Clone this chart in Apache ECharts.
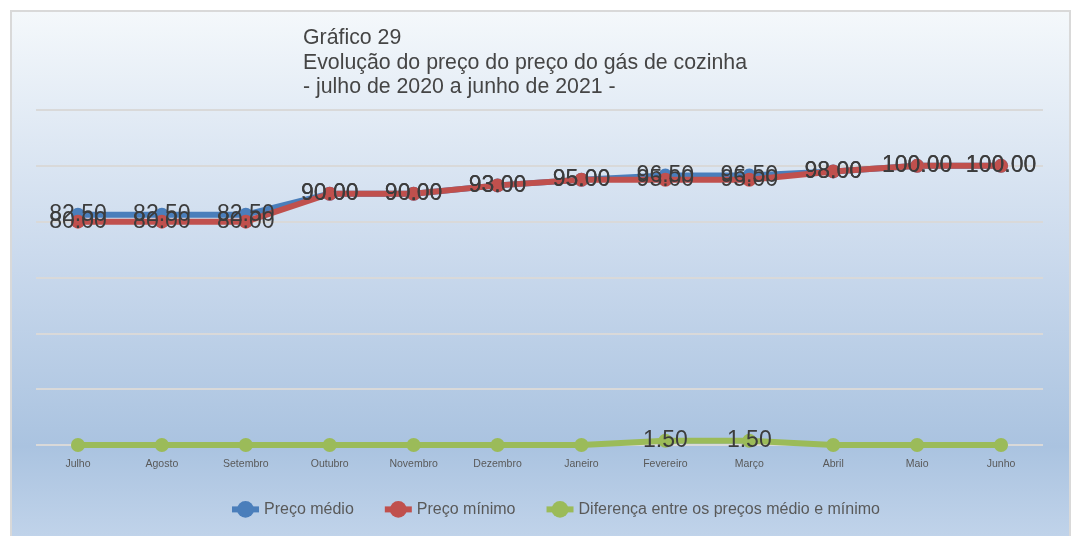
<!DOCTYPE html>
<html>
<head>
<meta charset="utf-8">
<script src="https://cdn.jsdelivr.net/npm/echarts@6/dist/echarts.min.js"></script>
<style>
  html, body { margin: 0; padding: 0; background: #ffffff; }
  #frame {
    position: absolute; left: 10px; top: 10px;
    width: 1061px; height: 540px;
    box-sizing: border-box;
    border: 2px solid #d9d9d9;
  }
  #chart { width: 1057px; height: 536px; }
</style>
</head>
<body>
<div id="frame"><div id="chart"></div></div>
<script>
// Meses de julho de 2020 a junho de 2021
const months = ['Julho', 'Agosto', 'Setembro', 'Outubro', 'Novembro', 'Dezembro',
                'Janeiro', 'Fevereiro', 'Março', 'Abril', 'Maio', 'Junho'];

// Preços do gás de cozinha (R$)
const precoMedio  = [82.5, 82.5, 82.5, 90, 90, 93, 95, 96.5, 96.5, 98, 100, 100];
const precoMinimo = [80, 80, 80, 90, 90, 93, 95, 95, 95, 98, 100, 100];
const diferenca   = [0, 0, 0, 0, 0, 0, 0, 1.5, 1.5, 0, 0, 0];

const seriesNames = ['Preço médio', 'Preço mínimo', 'Diferença entre os preços médio e mínimo'];
const titleLines = ['Gráfico 29', 'Evolução do preço do preço do gás de cozinha', '- julho de 2020 a junho de 2021 -'];

const FONT = 'Arial, "Liberation Sans", sans-serif';
const colors = ['#4a7ebb', '#c0504d', '#9bbb59'];

const chart = echarts.init(document.getElementById('chart'));

function lineSeries(name, data, color, hideZero) {
  return {
    name: name,
    type: 'line',
    data: data,
    symbol: 'circle',
    symbolSize: 14,
    lineStyle: { color: color, width: 6 },
    itemStyle: { color: color },
    emphasis: { disabled: true },
    label: {
      show: true,
      position: 'inside',
      fontFamily: FONT,
      fontSize: 23,
      color: '#3c3c3c',
      formatter: p => (hideZero && p.value === 0) ? '' : p.value.toFixed(2)
    },
    z: 2
  };
}

chart.setOption({
  animation: false,
  backgroundColor: {
    type: 'linear', x: 0, y: 0, x2: 0, y2: 1,
    colorStops: [
      { offset: 0, color: '#f4f8fb' },
      { offset: 0.45, color: '#cbdaed' },
      { offset: 0.81, color: '#aac3e0' },
      { offset: 1, color: '#c3d5eb' }
    ]
  },
  color: colors,
  title: {
    text: titleLines.join('\n'),
    left: 291,
    top: 14,
    padding: 0,
    textStyle: {
      fontFamily: FONT,
      fontSize: 21.3,
      fontWeight: 'normal',
      color: '#454545',
      lineHeight: 24.5
    }
  },
  legend: {
    left: 217,
    top: 489,
    padding: 0,
    itemWidth: 27,
    itemHeight: 21,
    itemGap: 28,
    lineStyle: { width: 6 },
    textStyle: { fontFamily: FONT, fontSize: 16, color: '#595959' },
    data: seriesNames
  },
  grid: { left: 24, right: 26, top: 98, height: 335 },
  xAxis: {
    type: 'category',
    data: months,
    boundaryGap: true,
    axisLine: { show: false },
    axisTick: { show: false },
    axisLabel: { fontFamily: FONT, fontSize: 10.5, color: '#595959', margin: 14 }
  },
  yAxis: {
    type: 'value',
    min: 0, max: 120, interval: 20,
    axisLabel: { show: false },
    axisLine: { show: false },
    axisTick: { show: false },
    splitLine: { lineStyle: { color: '#d9d9d9', width: 2 } }
  },
  series: [
    lineSeries(seriesNames[0], precoMedio, colors[0], false),
    lineSeries(seriesNames[1], precoMinimo, colors[1], false),
    lineSeries(seriesNames[2], diferenca, colors[2], true)
  ]
});
</script>
</body>
</html>
